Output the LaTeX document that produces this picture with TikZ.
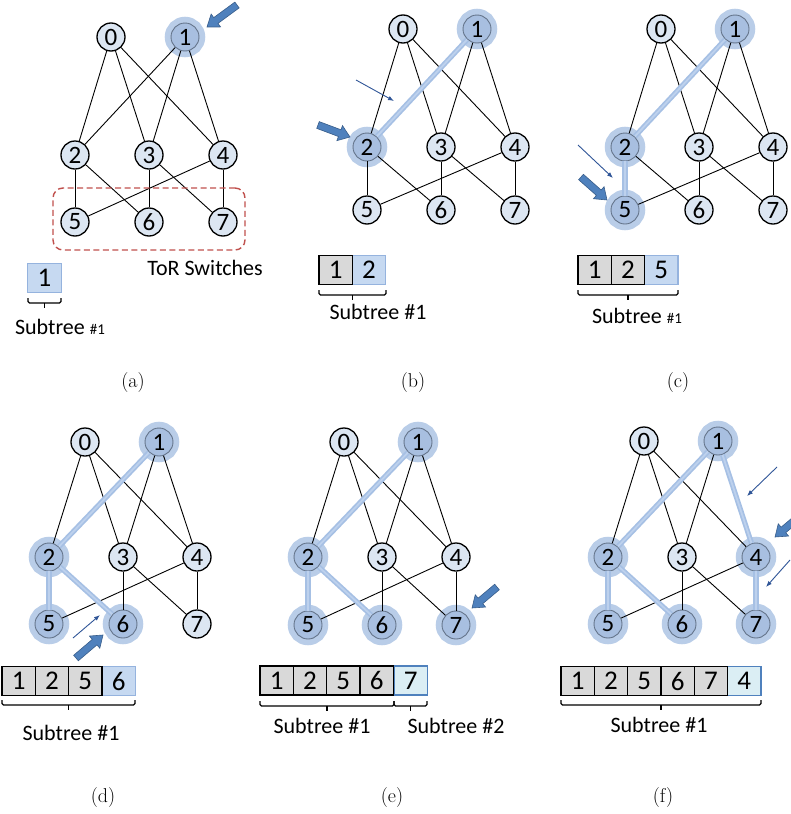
\documentclass[tikz,border=0pt]{standalone}
\usepackage{fontspec}
\newfontfamily\calfont{Carlito}
\usetikzlibrary{calc,arrows.meta}

\definecolor{nodefill}{HTML}{DCE6F2}
\definecolor{hotfill}{HTML}{A8BFE0}
\definecolor{hotring}{HTML}{B9CDE8}
\definecolor{hotborder}{HTML}{64748A}
\definecolor{hotedgeout}{HTML}{A6C0E4}
\definecolor{hotedgein}{HTML}{BDD1ED}
\definecolor{cellgray}{HTML}{D9D9D9}
\definecolor{cellblue}{HTML}{C6D9F1}
\definecolor{cellblueline}{HTML}{95B3DE}
\definecolor{cellcyan}{HTML}{DBEEF4}
\definecolor{cellcyanline}{HTML}{4F81BD}
\definecolor{torred}{HTML}{C0504D}
\definecolor{arrowfill}{HTML}{4F81BD}
\definecolor{arrowline}{HTML}{385D8A}
\definecolor{pointer}{HTML}{2F5597}

\tikzset{
  netnode/.style={circle, draw=black, line width=1.3pt, fill=nodefill,
    minimum size=28pt, inner sep=0pt, font=\calfont\fontsize{25}{25}\selectfont},
  hotnode/.style={fill=hotfill, draw=hotborder, line width=0.9pt,
    preaction={draw=hotring, line width=12.5pt}},
  st0/.style={}, st1/.style={}, st2/.style={}, st3/.style={},
  st4/.style={}, st5/.style={}, st6/.style={}, st7/.style={},
  edge/.style={draw=black, line width=0.9pt},
  hotedge/.style={draw=hotedgeout, line width=1.7pt, double=hotedgein, double distance=1.8pt},
  cellbase/.style={rectangle, minimum width=33.3pt, minimum height=29pt, inner sep=0pt,
    outer sep=0pt, line width=1.2pt, font=\calfont\fontsize{27}{27}\selectfont},
  graycell/.style={cellbase, fill=cellgray, draw=black},
  newcell/.style={cellbase, fill=cellblue, draw=cellblueline},
  nextcell/.style={cellbase, fill=cellcyan, draw=cellcyanline},
  bracketline/.style={draw=black, line width=1.2pt, rounded corners=1.5pt},
  lbl/.style={inner sep=0pt, font=\calfont\fontsize{22}{22}\selectfont},
  caption/.style={inner sep=0pt, font=\fontsize{20}{20}\selectfont},
  torbox/.style={draw=torred, dashed, dash pattern=on 6pt off 3.5pt, line width=1.4pt,
    rounded corners=10pt, minimum width=192pt, minimum height=62pt},
  fatarrow/.style={fill=arrowfill, draw=arrowline, line width=0.6pt, line join=miter},
  pointerarrow/.style={draw=pointer, line width=0.9pt, -{Latex[length=6pt,width=4.5pt]}},
}

% eight switches of one panel: prefix, x of switch 2, y of the three rows
\newcommand\netgraph[5]{%
  \node[netnode,st0] (#10) at (#2+36,#3) {0};
  \node[netnode,st1] (#11) at (#2+110,#3) {1};
  \node[netnode,st2] (#12) at (#2,#4) {2};
  \node[netnode,st3] (#13) at (#2+74,#4) {3};
  \node[netnode,st4] (#14) at (#2+148,#4) {4};
  \node[netnode,st5] (#15) at (#2,#5) {5};
  \node[netnode,st6] (#16) at (#2+74,#5) {6};
  \node[netnode,st7] (#17) at (#2+148,#5) {7};
  \foreach \u/\v in {0/2,0/3,0/4,1/2,1/3,1/4,2/5,2/6,3/6,3/7,4/5,4/7}
    \draw[edge] (#1\u) -- (#1\v);
}

% block arrow from a tail coordinate to a tip coordinate
\newcommand\fatarrow[2]{%
  \coordinate (#1-n) at ($(#2)!11pt!(#1)$);
  \filldraw[fatarrow] ($(#1)!3.6pt!90:(#2)$) -- ($(#1-n)!3.6pt!90:(#2)$)
    -- ($(#1-n)!8pt!90:(#2)$) -- (#2) -- ($(#1-n)!8pt!-90:(#2)$)
    -- ($(#1-n)!3.6pt!-90:(#2)$) -- ($(#1)!3.6pt!-90:(#2)$) -- cycle;
}

% bracket under a row of cells
\newcommand\cellbracket[3]{%
  \draw[bracketline] (#1,#3) -- (#1,#3+5) -- (#2,#3+5) -- (#2,#3);
  \draw[bracketline] ({(#1+#2)/2},#3+5) -- ({(#1+#2)/2},#3+10);
}

\begin{document}
\begin{tikzpicture}[x=1pt,y=-1pt]
\useasboundingbox (0,0) rectangle (790,814);

% ---------------- (a)
\begin{scope}[st1/.style={hotnode}]
  \netgraph{a}{75}{37}{155}{222}
\end{scope}
\node[torbox] (a-tor) at (149,219) {};
\node[lbl, anchor=east] (a-torlbl) at (263,268) {ToR Switches};
\node[newcell] (a-c1) at (44.5,278) {1};
\cellbracket{28}{61}{298}
\node[lbl] (a-sub) at (60,327) {Subtree {\fontsize{15}{15}\selectfont\#1}};
\coordinate (a-t) at (237,5); \coordinate (a-h) at (207,27);
\fatarrow{a-t}{a-h}
\node[caption] (a-cap) at (133,383) {(a)};

% ---------------- (b)
\begin{scope}[st1/.style={hotnode}, st2/.style={hotnode}]
  \netgraph{b}{367}{29}{147}{210}
\end{scope}
\draw[hotedge] (b1) -- (b2);
\node[newcell] (b-c2) at (369,270) {2};
\node[graycell] (b-c1) at (335.6,270) {1};
\cellbracket{319}{386}{290}
\node[lbl] (b-sub) at (378,312) {Subtree \#1};
\coordinate (b-t) at (318,125); \coordinate (b-h) at (350,137);
\fatarrow{b-t}{b-h}
\coordinate (b-p1) at (356,80); \coordinate (b-p2) at (394,101);
\draw[pointerarrow] (b-p1) -- (b-p2);
\node[caption] (b-cap) at (413,383) {(b)};

% ---------------- (c)
\begin{scope}[st1/.style={hotnode}, st2/.style={hotnode}, st5/.style={hotnode}]
  \netgraph{c}{625}{29}{147}{210}
\end{scope}
\draw[hotedge] (c1) -- (c2);
\draw[hotedge] (c2) -- (c5);
\node[newcell] (c-c3) at (661.3,270) {5};
\node[graycell] (c-c1) at (594.6,270) {1};
\node[graycell] (c-c2) at (628,270) {2};
\cellbracket{578}{678}{290}
\node[lbl] (c-sub) at (637,316) {Subtree {\fontsize{15}{15}\selectfont\#1}};
\coordinate (c-p1) at (578,145); \coordinate (c-p2) at (613,178);
\draw[pointerarrow] (c-p1) -- (c-p2);
\coordinate (c-t) at (581,177); \coordinate (c-h) at (607,200);
\fatarrow{c-t}{c-h}
\node[caption] (c-cap) at (678,383) {(c)};

% ---------------- (d)
\begin{scope}[st1/.style={hotnode}, st2/.style={hotnode}, st5/.style={hotnode}, st6/.style={hotnode}]
  \netgraph{d}{49}{442}{557}{624}
\end{scope}
\draw[hotedge] (d1) -- (d2);
\draw[hotedge] (d2) -- (d5);
\draw[hotedge] (d2) -- (d6);
\node[newcell] (d-c4) at (118.6,681) {6};
\node[graycell] (d-c1) at (18.6,681) {1};
\node[graycell] (d-c2) at (52,681) {2};
\node[graycell] (d-c3) at (85.3,681) {5};
\cellbracket{2}{135}{700}
\node[lbl] (d-sub) at (71,733) {Subtree \#1};
\coordinate (d-p1) at (73,638); \coordinate (d-p2) at (100,615);
\draw[pointerarrow] (d-p1) -- (d-p2);
\coordinate (d-t) at (76,658); \coordinate (d-h) at (103,635);
\fatarrow{d-t}{d-h}
\node[caption] (d-cap) at (103,797) {(d)};

% ---------------- (e)
\begin{scope}[st1/.style={hotnode}, st2/.style={hotnode}, st5/.style={hotnode},
              st6/.style={hotnode}, st7/.style={hotnode}]
  \netgraph{e}{308}{442}{557}{625}
\end{scope}
\draw[hotedge] (e1) -- (e2);
\draw[hotedge] (e2) -- (e5);
\draw[hotedge] (e2) -- (e6);
\node[nextcell] (e-c5) at (410.6,680.5) {7};
\node[graycell] (e-c1) at (276.6,680.5) {1};
\node[graycell] (e-c2) at (310,680.5) {2};
\node[graycell] (e-c3) at (343.3,680.5) {5};
\node[graycell] (e-c4) at (376.6,680.5) {6};
\cellbracket{260}{394}{701}
\cellbracket{394}{427}{701}
\node[lbl] (e-sub1) at (322,726) {Subtree \#1};
\node[lbl] (e-sub2) at (456,726) {Subtree \#2};
\coordinate (e-t) at (497,587); \coordinate (e-h) at (472,608);
\fatarrow{e-t}{e-h}
\node[caption] (e-cap) at (392,797) {(e)};

% ---------------- (f)
\begin{scope}[st1/.style={hotnode}, st2/.style={hotnode}, st4/.style={hotnode},
              st5/.style={hotnode}, st6/.style={hotnode}, st7/.style={hotnode}]
  \netgraph{f}{608}{441}{557}{624}
\end{scope}
\draw[hotedge] (f1) -- (f2);
\draw[hotedge] (f2) -- (f5);
\draw[hotedge] (f2) -- (f6);
\draw[hotedge] (f1) -- (f4);
\draw[hotedge] (f4) -- (f7);
\node[nextcell] (f-c6) at (744.3,681) {4};
\node[graycell] (f-c1) at (577.6,681) {1};
\node[graycell] (f-c2) at (611,681) {2};
\node[graycell] (f-c3) at (644.3,681) {5};
\node[graycell] (f-c4) at (677.6,681) {6};
\node[graycell] (f-c5) at (711,681) {7};
\cellbracket{561}{761}{700}
\node[lbl] (f-sub) at (659,725) {Subtree \#1};
\coordinate (f-p1) at (777,467); \coordinate (f-p2) at (747,496);
\draw[pointerarrow] (f-p1) -- (f-p2);
\coordinate (f-t) at (800,516); \coordinate (f-h) at (775,537);
\fatarrow{f-t}{f-h}
\coordinate (f-p3) at (790,560); \coordinate (f-p4) at (766,587);
\draw[pointerarrow] (f-p3) -- (f-p4);
\node[caption] (f-cap) at (663,797) {(f)};

\end{tikzpicture}
\end{document}
